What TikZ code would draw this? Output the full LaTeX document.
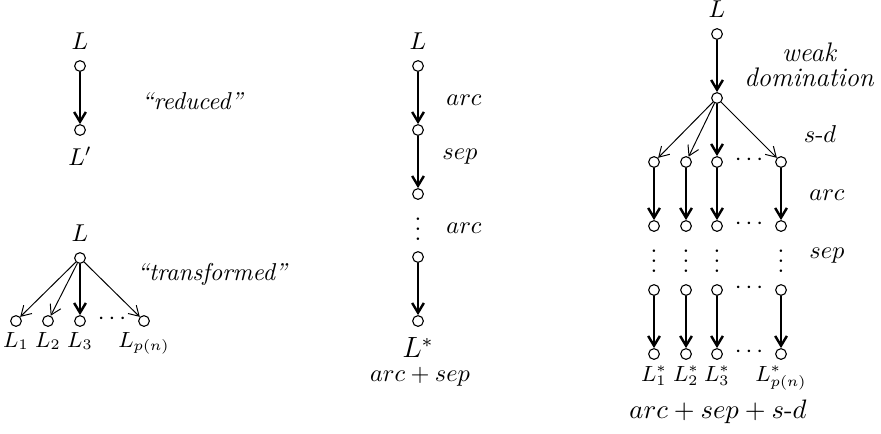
\documentclass[tikz,border=0pt]{standalone}
\usetikzlibrary{arrows.meta,positioning}

\begin{document}
\begin{tikzpicture}[x=0.41pt,y=-0.41pt,
  pt/.style={circle,draw,line width=0.45pt,inner sep=0pt,minimum size=4.4pt},
  heavy/.style={-{Straight Barb[length=4pt,width=4.8pt]},line width=1pt},
  light/.style={-{Straight Barb[length=4pt,width=4.8pt]},line width=0.4pt},
  lbl/.style={font=\itshape},
  sub/.style={font=\small,inner sep=1pt},
  dots/.style={inner sep=0pt},
]
\useasboundingbox (0,0) rectangle (881,433);

% reduced
\node[pt] (a1) at (80,66) {};
\node[pt] (a2) at (80,130) {};
\node[above=1pt of a1] (a1l) {$L$};
\node[below=1pt of a2] (a2l) {$L'$};
\draw[heavy] (a1) -- (a2);
\node[lbl] (red) at (192,101) {``reduced''};

% transformed
\node[pt] (b0) at (80,258) {};
\node[above=1pt of b0] (b0l) {$L$};
\foreach \x/\i in {16/1,48/2,80/3,144/4}
  \node[pt] (b\i) at (\x,321) {};
\node[dots] (bd) at (112,319) {$\cdots$};
\draw[light] (b0) -- (b1);
\draw[light] (b0) -- (b2);
\draw[heavy] (b0) -- (b3);
\draw[light] (b0) -- (b4);
\node[sub,below=1pt of b1] {$L_1$};
\node[sub,below=1pt of b2] {$L_2$};
\node[sub,below=1pt of b3] {$L_3$};
\node[sub,below=1pt of b4] {$L_{p(n)}$};
\node[lbl] (tra) at (212,274) {``transformed''};

% arc + sep
\node[pt] (m1) at (418,66) {};
\node[pt] (m2) at (418,130) {};
\node[pt] (m3) at (418,194) {};
\node[dots] (md) at (418,222) {$\vdots$};
\node[pt] (m4) at (418,257) {};
\node[pt] (m5) at (418,321) {};
\node[above=1pt of m1] {$L$};
\node[below=1pt of m5,font=\large] (m5l) {$L^*$};
\draw[heavy] (m1) -- (m2);
\draw[heavy] (m2) -- (m3);
\draw[heavy] (m4) -- (m5);
\node at (464,100) {$arc$};
\node at (460,157) {$sep$};
\node at (464,228) {$arc$};
\node at (420,377) {$arc+sep$};

% arc + sep + s-d
\node[pt] (r0) at (717,34) {};
\node[pt] (r1) at (717,98) {};
\node[above=1pt of r0] {$L$};
\draw[heavy] (r0) -- (r1);
\foreach \x/\i in {654/1,686/2,717/3,781/4} {
  \node[pt] (p\i) at (\x,162) {};
  \node[pt] (q\i) at (\x,226) {};
  \node[dots] (v\i) at (\x,254) {$\vdots$};
  \node[pt] (s\i) at (\x,290) {};
  \node[pt] (e\i) at (\x,354) {};
  \draw[heavy] (p\i) -- (q\i);
  \draw[heavy] (s\i) -- (e\i);
}
\foreach \y/\n in {160/p,224/q,288/s,352/e}
  \node[dots] (\n d) at (749,\y) {$\cdots$};
\draw[light] (r1) -- (p1);
\draw[light] (r1) -- (p2);
\draw[heavy] (r1) -- (p3);
\draw[light] (r1) -- (p4);
\node[sub,below=1pt of e1] {$L_1^*$};
\node[sub,below=1pt of e2] {$L_2^*$};
\node[sub,below=1pt of e3] {$L_3^*$};
\node[sub,below=1pt of e4] {$L_{p(n)}^*$};
\node[lbl,align=center,font=\itshape\fontsize{11}{10}\selectfont] (wd) at (809,65) {weak\\domination};
\node at (820,134) {$s$-$d$};
\node at (827,195) {$arc$};
\node at (827,256) {$sep$};
\node[font=\fontsize{10.5}{12}\selectfont] at (718,412) {$arc+sep+s$-$d$};
\end{tikzpicture}
\end{document}
